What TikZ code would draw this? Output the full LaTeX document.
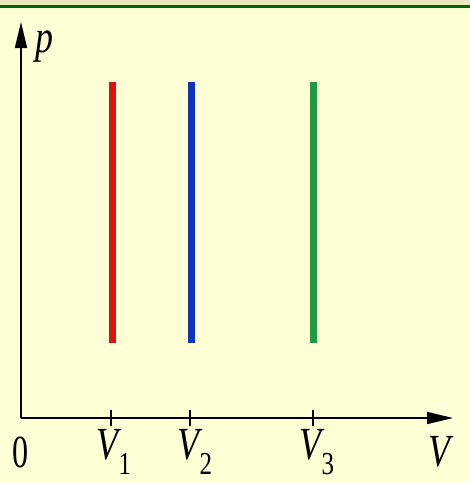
\documentclass[tikz,border=0pt]{standalone}
\usepackage{fontspec}
\setmainfont{Liberation Serif}
\usetikzlibrary{arrows.meta}
\definecolor{bg}{HTML}{FFFFD6}
\definecolor{band}{HTML}{E8E8C0}
\definecolor{gline}{HTML}{006600}
\definecolor{cred}{HTML}{DD1111}
\definecolor{cblue}{HTML}{1133BB}
\definecolor{cgreen}{HTML}{229944}
\tikzset{
  axis/.style={line width=1.6pt,-{Triangle[length=26pt,width=12pt]}},
  tickmark/.style={line width=1.4pt},
  iso/.style={line width=7pt},
  lbl/.style={inner sep=0pt,font=\fontsize{46}{46}\selectfont\itshape,xscale=0.78},
  numlbl/.style={inner sep=0pt,font=\fontsize{46}{46}\selectfont\upshape,xscale=0.7}
}
\newcommand{\sbx}[1]{\raisebox{-0.32em}{\fontsize{32}{32}\selectfont\upshape #1}}
\begin{document}
\begin{tikzpicture}[x=1pt,y=-1pt]
\useasboundingbox (0,0) rectangle (470,483);
\fill[bg] (0,0) rectangle (470,483);
\fill[band] (0,0) rectangle (470,5);
\fill[gline] (0,5) rectangle (470,8);
% axes
\coordinate (O) at (21,418);
\coordinate (ytip) at (21,22);
\coordinate (xtip) at (453,418);
\draw[axis] (O) -- (ytip);
\draw[axis] (O) -- (xtip);
% ticks
\coordinate (t1a) at (111,410); \coordinate (t1b) at (111,426);
\coordinate (t2a) at (190,410); \coordinate (t2b) at (190,426);
\coordinate (t3a) at (313,410); \coordinate (t3b) at (313,426);
\draw[tickmark] (t1a) -- (t1b);
\draw[tickmark] (t2a) -- (t2b);
\draw[tickmark] (t3a) -- (t3b);
% isochores
\coordinate (r1) at (112,82); \coordinate (r2) at (112,343);
\coordinate (b1) at (191,82); \coordinate (b2) at (191,343);
\coordinate (g1) at (313,82); \coordinate (g2) at (313,343);
\draw[iso,cred] (r1) -- (r2);
\draw[iso,cblue] (b1) -- (b2);
\draw[iso,cgreen] (g1) -- (g2);
% labels
\node[lbl,anchor=west] (plab) at (35,47) {p};
\node[numlbl] (zero) at (21,452) {0};
\node[lbl] (v1) at (114,452) {V\sbx{1}};
\node[lbl] (v2) at (195,452) {V\sbx{2}};
\node[lbl] (v3) at (317,452) {V\sbx{3}};
\node[lbl] (vv) at (439,452) {V};
\end{tikzpicture}
\end{document}
